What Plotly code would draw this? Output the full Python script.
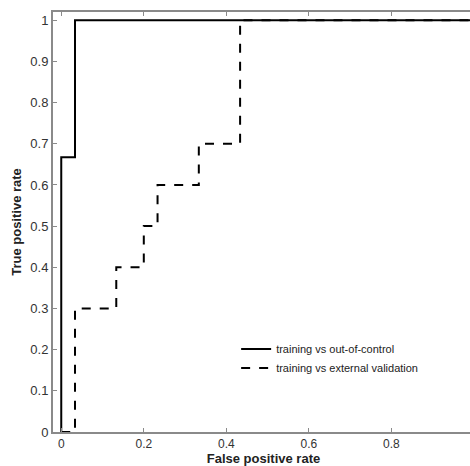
import plotly.graph_objects as go

# ROC step curves (false positive rate, true positive rate)
fpr_ooc = [0, 0, 0.0333, 0.0333, 1.0]
tpr_ooc = [0, 0.667, 0.667, 1.0, 1.0]

fpr_ext = [0, 0.0333, 0.0333, 0.1333, 0.1333, 0.2, 0.2, 0.2333, 0.2333, 0.3333, 0.3333, 0.4333, 0.4333, 1.0]
tpr_ext = [0, 0, 0.3, 0.3, 0.4, 0.4, 0.5, 0.5, 0.6, 0.6, 0.7, 0.7, 1.0, 1.0]

name_ooc = "training vs out-of-control"
name_ext = "training vs external validation"

x_ticks = [0, 0.2, 0.4, 0.6, 0.8]
x_ticklabels = ["0", "0.2", "0.4", "0.6", "0.8"]
y_ticks = [0, 0.1, 0.2, 0.3, 0.4, 0.5, 0.6, 0.7, 0.8, 0.9, 1]
y_ticklabels = ["0", "0.1", "0.2", "0.3", "0.4", "0.5", "0.6", "0.7", "0.8", "0.9", "1"]

fig = go.Figure()
fig.add_trace(go.Scatter(x=fpr_ooc, y=tpr_ooc, mode="lines", name=name_ooc,
                         line=dict(color="black", width=2, dash="solid")))
fig.add_trace(go.Scatter(x=fpr_ext, y=tpr_ext, mode="lines", name=name_ext,
                         line=dict(color="black", width=2, dash="dash")))

axis_common = dict(showline=True, linecolor="#8a8a8a", linewidth=2, mirror="ticks",
                   ticks="inside", ticklen=4, tickcolor="#8a8a8a", showgrid=False,
                   zeroline=False, automargin=False)

fig.update_xaxes(range=[-0.02, 1.0], tickvals=x_ticks, ticktext=x_ticklabels,
                 tickfont=dict(family="Liberation Sans", size=12, color="#333333"),
                 title=dict(text="<b>False positive rate</b>", standoff=1,
                            font=dict(family="Liberation Sans", size=13, color="#222222")),
                 **axis_common)
fig.update_yaxes(range=[0, 1.02], tickvals=y_ticks, ticktext=y_ticklabels,
                 tickfont=dict(family="Liberation Sans", size=13, color="#333333"),
                 title=dict(text="<b>True positive rate</b>", standoff=6,
                            font=dict(family="Liberation Sans", size=13, color="#222222")),
                 **axis_common)

fig.update_layout(
    width=474, height=466,
    margin=dict(l=53, r=0, t=12, b=34),
    plot_bgcolor="white", paper_bgcolor="white",
    showlegend=True,
    legend=dict(x=0.435, y=0.232, xanchor="left", yanchor="top",
                bgcolor="rgba(0,0,0,0)", borderwidth=0,
                font=dict(family="Liberation Sans", size=11, color="#222222"),
                tracegroupgap=0, itemwidth=30),
)

fig.write_html("out.html", config={"displayModeBar": False},
               post_script="document.body.style.margin='0';document.body.style.overflow='hidden';")
